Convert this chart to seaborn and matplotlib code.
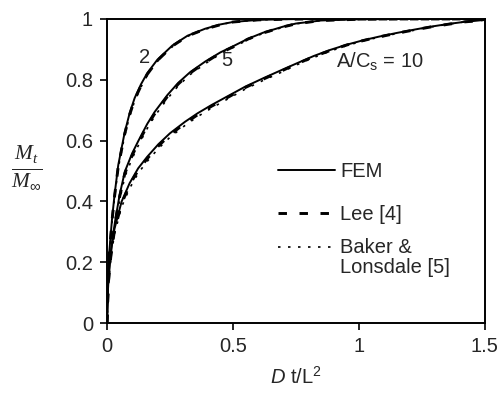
import numpy as np
import pandas as pd
import matplotlib
matplotlib.use("Agg")
import matplotlib.pyplot as plt
from matplotlib.lines import Line2D
from matplotlib.legend_handler import HandlerLine2D
import seaborn as sns

# ---------------- data ----------------
x_c2 = [0, 0.005, 0.01, 0.02, 0.03, 0.045, 0.07, 0.09, 0.11, 0.135, 0.16, 0.2, 0.26,
        0.32, 0.39, 0.45, 0.5, 0.6, 0.7, 0.8, 1.0, 1.2, 1.5]
fem_c2 = [0, 0.17, 0.24, 0.34, 0.42, 0.52, 0.625, 0.69, 0.74, 0.785, 0.822, 0.866, 0.913,
          0.945, 0.968, 0.982, 0.99, 0.997, 0.999, 1.0, 1.0, 1.0, 1.0]
lee_c2 = [0, 0.165, 0.235, 0.335, 0.415, 0.515, 0.62, 0.685, 0.735, 0.78, 0.818, 0.863, 0.911,
          0.944, 0.967, 0.981, 0.99, 0.997, 0.999, 1.0, 1.0, 1.0, 1.0]
bak_c2 = [0, 0.16, 0.23, 0.33, 0.41, 0.51, 0.615, 0.68, 0.73, 0.776, 0.814, 0.86, 0.909,
          0.943, 0.966, 0.981, 0.99, 0.997, 0.999, 1.0, 1.0, 1.0, 1.0]

x_c5 = [0, 0.005, 0.01, 0.02, 0.032, 0.05, 0.071, 0.1, 0.124, 0.16, 0.19, 0.24,
        0.283, 0.33, 0.39, 0.45, 0.5, 0.56, 0.62, 0.7, 0.75, 0.85, 1.0, 1.2, 1.5]
fem_c5 = [0, 0.13, 0.19, 0.265, 0.333, 0.42, 0.498, 0.558, 0.598, 0.655, 0.695, 0.75,
          0.79, 0.825, 0.86, 0.89, 0.91, 0.935, 0.955, 0.975, 0.985, 0.995, 0.999, 1.0, 1.0]
lee_c5 = [0, 0.125, 0.185, 0.26, 0.328, 0.414, 0.492, 0.551, 0.592, 0.649, 0.689, 0.745,
          0.786, 0.822, 0.857, 0.888, 0.908, 0.934, 0.954, 0.974, 0.984, 0.995, 0.999, 1.0, 1.0]
bak_c5 = [0, 0.115, 0.175, 0.25, 0.318, 0.403, 0.481, 0.541, 0.583, 0.64, 0.681, 0.738,
          0.78, 0.817, 0.853, 0.885, 0.906, 0.932, 0.953, 0.973, 0.984, 0.995, 0.999, 1.0, 1.0]

x_c10 = [0, 0.005, 0.01, 0.018, 0.03, 0.058, 0.09, 0.124, 0.16, 0.204, 0.25, 0.31,
         0.36, 0.415, 0.488, 0.55, 0.62, 0.69, 0.753, 0.82, 0.885, 0.95, 1.017, 1.08,
         1.15, 1.22, 1.28, 1.35, 1.414, 1.5]
fem_c10 = [0, 0.13, 0.18, 0.246, 0.31, 0.399, 0.46, 0.509, 0.547, 0.588, 0.624, 0.662,
           0.69, 0.717, 0.75, 0.778, 0.805, 0.831, 0.854, 0.878, 0.898, 0.915, 0.93, 0.942,
           0.954, 0.965, 0.974, 0.983, 0.99, 0.997]
lee_c10 = [0, 0.125, 0.175, 0.24, 0.304, 0.393, 0.454, 0.503, 0.541, 0.582, 0.619, 0.657,
           0.685, 0.713, 0.746, 0.775, 0.802, 0.828, 0.852, 0.876, 0.896, 0.914, 0.929, 0.941,
           0.953, 0.964, 0.973, 0.982, 0.99, 0.996]
bak_c10 = [0, 0.115, 0.165, 0.23, 0.293, 0.382, 0.443, 0.493, 0.532, 0.574, 0.611, 0.65,
           0.679, 0.707, 0.741, 0.77, 0.798, 0.824, 0.849, 0.873, 0.894, 0.912, 0.928, 0.94,
           0.952, 0.963, 0.973, 0.982, 0.99, 0.996]

models = ["FEM", "Lee [4]", "Baker &\nLonsdale [5]"]
curve_labels = ["2", "5", "A/C$_\\mathrm{s}$ = 10"]
x_ticks = [0, 0.5, 1, 1.5]
x_tick_labels = ["0", "0.5", "1", "1.5"]
y_ticks = [0, 0.2, 0.4, 0.6, 0.8, 1.0]
y_tick_labels = ["0", "0.2", "0.4", "0.6", "0.8", "1"]

# ---------------- style ----------------
FS = 14.5
sns.set_theme(style="white")
plt.rcParams["font.family"] = ["Liberation Sans", "DejaVu Sans"]
plt.rcParams["mathtext.fontset"] = "custom"
plt.rcParams["mathtext.rm"] = "Liberation Sans"
plt.rcParams["mathtext.it"] = "Liberation Sans:italic"
plt.rcParams["mathtext.bf"] = "Liberation Serif:italic"

fig = plt.figure(figsize=(5.02, 3.95), dpi=100)
ax = fig.add_axes([0.213, 0.182, 0.753, 0.770])

series = [
    (x_c2, fem_c2, lee_c2, bak_c2),
    (x_c5, fem_c5, lee_c5, bak_c5),
    (x_c10, fem_c10, lee_c10, bak_c10),
]
styles = {
    "FEM": dict(linestyle="-", linewidth=1.4),
    "Lee [4]": dict(linestyle=(0, (2.9, 4.3)), linewidth=2.1),
    "Baker &\nLonsdale [5]": dict(linestyle=(0, (1.5, 4.5)), linewidth=1.2),
}
for xs, fem, lee, bak in series:
    for name, ys in zip(models, [fem, lee, bak]):
        df = pd.DataFrame({"x": xs, "y": ys})
        sns.lineplot(data=df, x="x", y="y", ax=ax, color="black",
                     legend=False, estimator=None, **styles[name])

ax.set_xlim(0, 1.5)
ax.set_ylim(0, 1)
ax.set_xticks(x_ticks)
ax.set_xticklabels(x_tick_labels)
ax.set_yticks(y_ticks)
ax.set_yticklabels(y_tick_labels)
ax.tick_params(axis="both", direction="out", length=5, width=1.2,
               labelsize=FS, color="black", pad=5, bottom=True, left=True)
for s in ax.spines.values():
    s.set_visible(True)
    s.set_color("black")
    s.set_linewidth(1.4)

ax.set_xlabel(r"$\mathit{D}$ t/L$^2$", fontsize=FS, labelpad=7)
ax.set_ylabel(r"$\frac{\mathbf{M}_{\mathbf{t}}}{\mathbf{M}_{\infty}}$",
              fontsize=22, rotation=0, ha="center", va="center")
ax.yaxis.set_label_coords(-0.212, 0.51)

# curve annotations
ax.text(0.151, 0.872, curve_labels[0], fontsize=FS, ha="center", va="center")
ax.text(0.476, 0.865, curve_labels[1], fontsize=FS, ha="center", va="center")
ax.text(0.91, 0.859, curve_labels[2], fontsize=FS, ha="left", va="center")


class TopLineHandler(HandlerLine2D):
    """Place the legend line level with the first line of a two-line label."""
    def __init__(self, shift, **kw):
        super().__init__(**kw)
        self.shift = shift

    def create_artists(self, legend, orig_handle, xdescent, ydescent, width,
                       height, fontsize, trans):
        arts = super().create_artists(legend, orig_handle, xdescent, ydescent,
                                      width, height, fontsize, trans)
        for a in arts:
            yd = np.asarray(a.get_ydata(), dtype=float)
            a.set_ydata(yd + self.shift * fontsize)
        return arts


handles = [Line2D([], [], color="black", **styles[m]) for m in models]
common = dict(loc="upper left", frameon=False, fontsize=FS, handlelength=2.85,
              handletextpad=0.25, borderpad=0, borderaxespad=0)
leg1 = ax.legend(handles[:2], models[:2], bbox_to_anchor=(0.452, 0.531),
                 labelspacing=1.2, **common)
ax.add_artist(leg1)
leg2 = ax.legend(handles[2:], models[2:], bbox_to_anchor=(0.452, 0.281),
                 handler_map={handles[2]: TopLineHandler(0.56)}, **common)
for t in leg2.get_texts():
    t.set_linespacing(1.1)

fig.savefig("out.png", dpi=100)
